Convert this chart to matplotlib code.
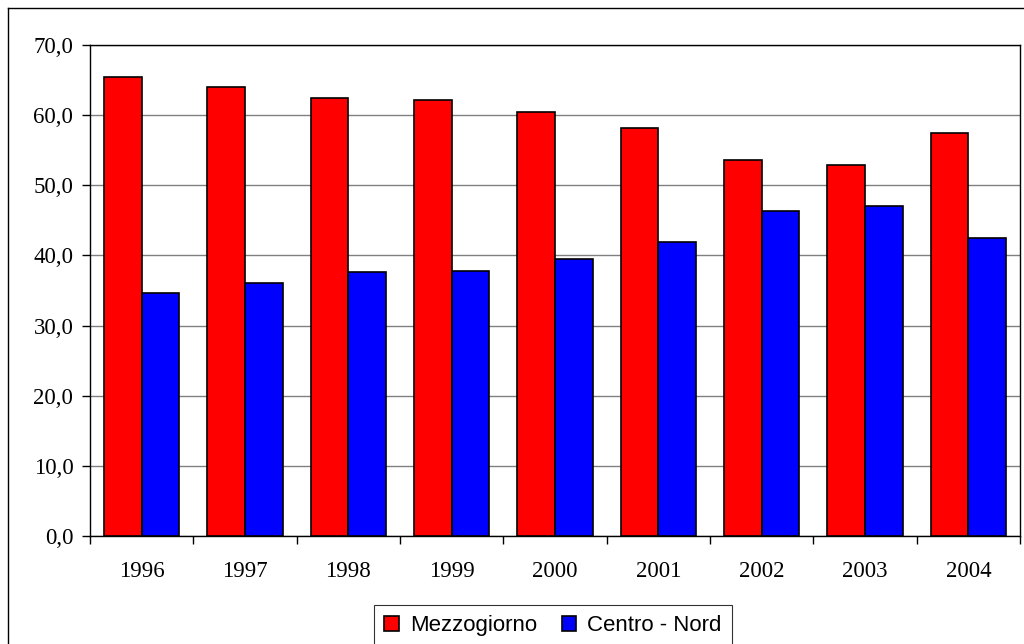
import numpy as np
import matplotlib.pyplot as plt
from matplotlib.lines import Line2D

years = ['1996', '1997', '1998', '1999', '2000', '2001', '2002', '2003', '2004']
mezzogiorno = [65.4, 64.0, 62.4, 62.2, 60.5, 58.1, 53.6, 52.9, 57.5]
centro_nord = [34.6, 36.0, 37.6, 37.8, 39.5, 41.9, 46.4, 47.1, 42.5]

W, H = 1024, 644
fig = plt.figure(figsize=(W / 100, H / 100), dpi=100)
ax = fig.add_axes([90 / W, (H - 536) / H, 930 / W, 491 / H])

x = np.arange(len(years))
bw = 0.364
ax.bar(x - bw / 2, mezzogiorno, bw, color='#ff0000', edgecolor='black', linewidth=1.2,
       label='Mezzogiorno', zorder=3)
ax.bar(x + bw / 2, centro_nord, bw, color='#0000ff', edgecolor='black', linewidth=1.2,
       label='Centro - Nord', zorder=3)

ax.set_xlim(-0.5, len(years) - 0.5)
ax.set_ylim(0, 70)
yt = np.arange(0, 71, 10)
ax.set_yticks(yt)
ax.set_yticklabels([('%.1f' % v).replace('.', ',') for v in yt])
ax.yaxis.grid(True, color='#808080', linewidth=1, zorder=0)

ax.set_xticks(x)
ax.set_xticklabels(years)
ax.set_xticks(np.arange(-0.5, len(years), 1), minor=True)
ax.tick_params(axis='x', which='major', length=0, pad=18)
ax.tick_params(axis='x', which='minor', length=6, width=1, direction='out')
ax.tick_params(axis='y', length=6, width=1, direction='out', pad=6)

for lab in ax.get_xticklabels() + ax.get_yticklabels():
    lab.set_family('Liberation Serif')
    lab.set_fontsize(16.5)

for s in ax.spines.values():
    s.set_color('black')
    s.set_linewidth(1)

leg = fig.legend(loc='upper center', bbox_to_anchor=(553 / W, 1 - 605 / H),
                 ncol=2, frameon=True, fancybox=False, edgecolor='black',
                 prop={'family': 'Liberation Sans', 'size': 16},
                 handlelength=0.65, handleheight=0.65, handletextpad=0.5,
                 columnspacing=1.1, borderpad=0.45, borderaxespad=0)
leg.get_frame().set_linewidth(0.8)

# outer chart border
fig.add_artist(Line2D([7.5 / W, 7.5 / W], [0, 1 - 8 / H], color='black', lw=1))
fig.add_artist(Line2D([7.5 / W, 1], [1 - 8 / H, 1 - 8 / H], color='black', lw=1))

fig.savefig('out.png', dpi=100)
